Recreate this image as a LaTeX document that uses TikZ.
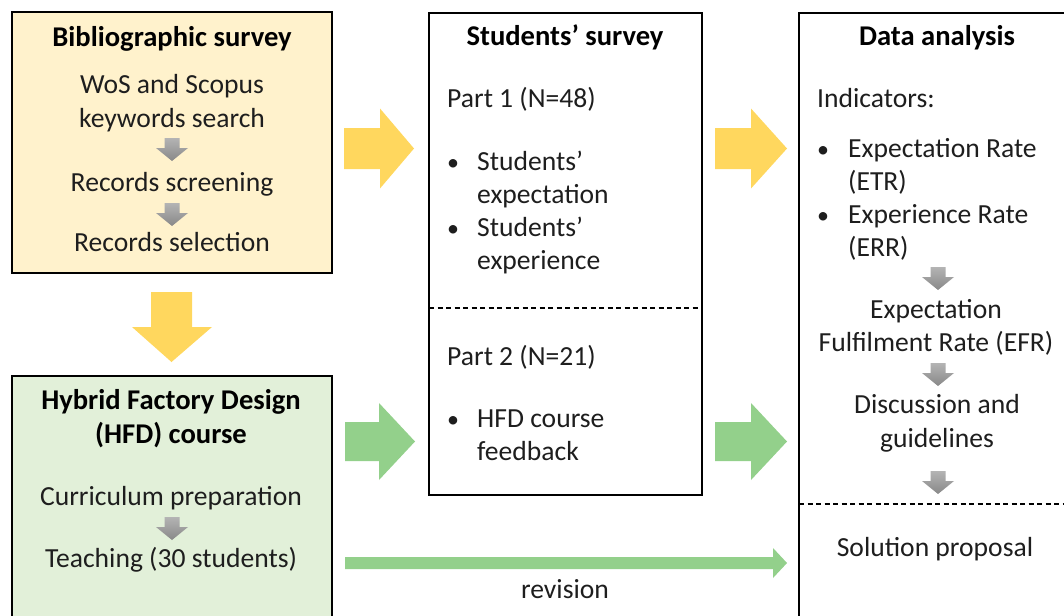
\documentclass[tikz,border=0pt]{standalone}
\usepackage{fontspec}
\setmainfont{Carlito}
\definecolor{bibfill}{HTML}{FFF2CC}
\definecolor{hfdfill}{HTML}{E2F0D9}
\definecolor{yarrow}{HTML}{FFD75E}
\definecolor{garrowc}{HTML}{93D08B}
\definecolor{graytop}{HTML}{B4B4B4}
\definecolor{graybot}{HTML}{888888}
\definecolor{txtcol}{HTML}{1E1E1E}
% right block arrow: #1 colour, #2 tail x, #3 head x, #4 tip x, #5 centre y, #6 shaft half width, #7 head half width
\newcommand\RBlockArrow[7]{%
  \fill[#1] (#2,#5-#6) -- (#3,#5-#6) -- (#3,#5-#7) -- (#4,#5) -- (#3,#5+#7) -- (#3,#5+#6) -- (#2,#5+#6) -- cycle;}
% small grey down arrow: #1 centre x, #2 top y
\newcommand\GrayDown[2]{%
  \shade[top color=graytop,bottom color=graybot] (#1-7.5,#2) -- (#1+7.5,#2) -- (#1+7.5,#2+10) -- (#1+16,#2+10) -- (#1,#2+23) -- (#1-16,#2+10) -- (#1-7.5,#2+10) -- cycle;}
\begin{document}
\begin{tikzpicture}[x=1pt,y=-1pt,
  box/.style={draw=black, line width=2.3pt, inner sep=0pt, outer sep=0pt},
  txt/.style={font=\fontsize{27.6}{33}\selectfont, text=txtcol, inner sep=0pt, anchor=base},
  btxt/.style={txt, font=\fontsize{28.6}{33}\selectfont\bfseries, text=black},
  ltxt/.style={txt, anchor=base west},
  bul/.style={txt, font=\fontsize{24}{33}\selectfont},
  divider/.style={draw=black, line width=1.1pt, dash pattern=on 5pt off 3.5pt}]
\useasboundingbox (0,0) rectangle (1064,615);
\clip (0,0) rectangle (1064,615);

% boxes
\node[box, fill=bibfill, minimum width=320pt, minimum height=261pt, anchor=north west] (bib) at (12,12) {};
\node[box, fill=hfdfill, minimum width=320pt, minimum height=280pt, anchor=north west] (hfd) at (12,376) {};
\node[box, fill=white, minimum width=273pt, minimum height=482pt, anchor=north west] (ss) at (429,13) {};
\node[box, fill=white, minimum width=300pt, minimum height=640pt, anchor=north west] (da) at (799,13) {};

% block arrows
\RBlockArrow{yarrow}{344}{380}{414}{148.5}{20.5}{40}
\RBlockArrow{yarrow}{715}{751}{787}{148.5}{20.5}{40}
\RBlockArrow{garrowc}{345}{379}{415}{441.5}{19.5}{38.5}
\RBlockArrow{garrowc}{715}{751}{787}{441.5}{19.5}{38.5}
\RBlockArrow{garrowc}{345}{773}{787}{563}{6}{15}
\fill[yarrow] (151,292) -- (192,292) -- (192,327) -- (212,327) -- (171.5,362) -- (132,327) -- (151,327) -- cycle;

% Bibliographic survey
\node[btxt] (bibT) at (172,47) {Bibliographic survey};
\node[txt] (bib1) at (172,94) {WoS and Scopus};
\node[txt] (bib2) at (172,128) {keywords search};
\GrayDown{172}{138}
\node[txt] (bib3) at (172,191) {Records screening};
\GrayDown{172}{203}
\node[txt] (bib4) at (172,251) {Records selection};

% HFD course
\node[btxt] (hfdT1) at (171,409) {Hybrid Factory Design};
\node[btxt] (hfdT2) at (171,443) {(HFD) course};
\node[txt] (hfd1) at (171,505) {Curriculum preparation};
\GrayDown{172}{517}
\node[txt] (hfd2) at (171,567) {Teaching (30 students)};

% Students' survey
\node[btxt] (ssT) at (565,46) {Students’ survey};
\node[ltxt] (p1) at (447,108) {Part 1 (N=48)};
\node[bul] (b1) at (453,170) {\textbullet};
\node[ltxt] (s1) at (477,170) {Students’};
\node[ltxt] (s2) at (477,203) {expectation};
\node[bul] (b2) at (453,236) {\textbullet};
\node[ltxt] (s3) at (477,236) {Students’};
\node[ltxt] (s4) at (477,269) {experience};
\draw[divider] (ss.west |- 0,308) -- (ss.east |- 0,308);
\node[ltxt] (p2) at (447,365) {Part 2 (N=21)};
\node[bul] (b3) at (453,427) {\textbullet};
\node[ltxt] (h1) at (477,427) {HFD course};
\node[ltxt] (h2) at (477,460) {feedback};

% Data analysis
\node[btxt] (daT) at (937,46) {Data analysis};
\node[ltxt] (ind) at (817,108) {Indicators:};
\node[bul] (b4) at (823,157) {\textbullet};
\node[ltxt] (e1) at (848,157) {Expectation Rate};
\node[ltxt] (e2) at (848,190) {(ETR)};
\node[bul] (b5) at (823,223) {\textbullet};
\node[ltxt] (e3) at (848,223) {Experience Rate};
\node[ltxt] (e4) at (848,256) {(ERR)};
\GrayDown{938}{267}
\node[txt] (efr1) at (936,318) {Expectation};
\node[txt] (efr2) at (936,351) {Fulfilment Rate (EFR)};
\GrayDown{938}{363}
\node[txt] (dg1) at (937,413) {Discussion and};
\node[txt] (dg2) at (937,447) {guidelines};
\GrayDown{938}{471}
\draw[divider] (da.west |- 0,504) -- (1064,504);
\node[txt] (sol) at (935,556) {Solution proposal};

% revision label
\node[txt] (rev) at (565,598) {revision};
\end{tikzpicture}
\end{document}
